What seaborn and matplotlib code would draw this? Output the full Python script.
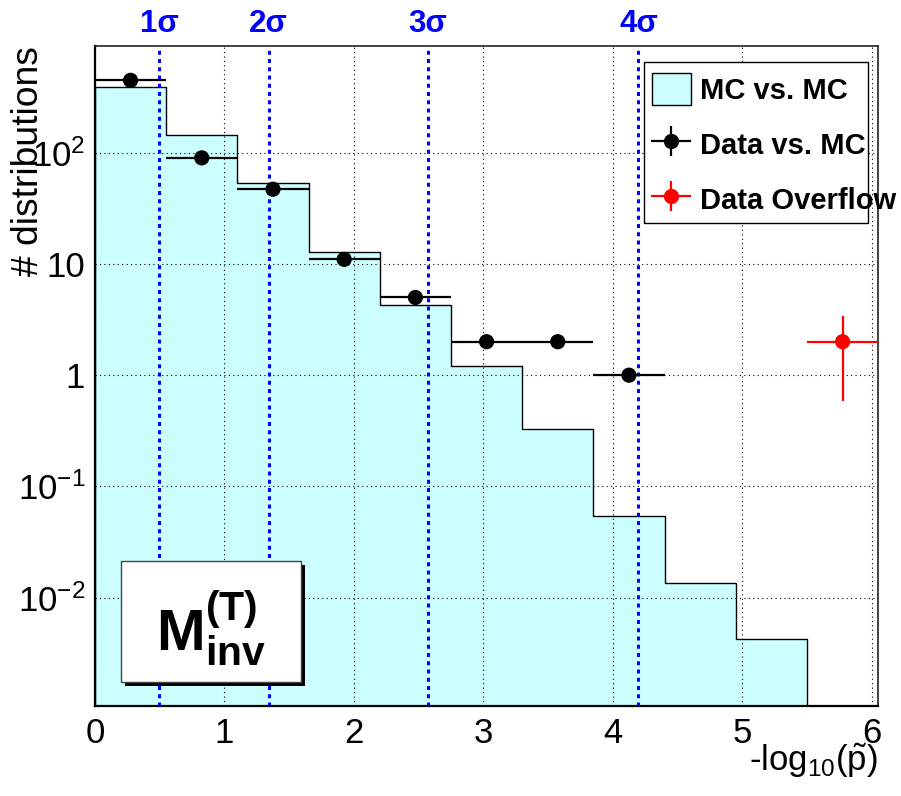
import numpy as np
import pandas as pd
import matplotlib
matplotlib.use("Agg")
import matplotlib.pyplot as plt
import matplotlib.transforms as mtransforms
from matplotlib.patches import Rectangle, Patch
from matplotlib.lines import Line2D
from matplotlib.ticker import (FixedLocator, FixedFormatter, MultipleLocator,
                               LogLocator, NullFormatter)
import seaborn as sns

# ---------------- data ----------------
bin_edges = [0.0, 0.55, 1.1, 1.65, 2.2, 2.75, 3.3, 3.85, 4.4, 4.95, 5.5]
mc_counts = [393, 143, 53.7, 12.9, 4.31, 1.21, 0.327, 0.0542, 0.0134, 0.00423]
data_counts = [448, 90, 47, 11, 5, 2, 2, 1]
overflow_x = [5.775]
overflow_counts = [2]
sigma_labels = ["1σ", "2σ", "3σ", "4σ"]
sigma_positions = [0.4985, 1.342, 2.569, 4.198]
xtick_values = [0, 1, 2, 3, 4, 5, 6]
xtick_labels = ["0", "1", "2", "3", "4", "5", "6"]
ytick_values = [0.01, 0.1, 1, 10, 100]
ytick_labels = [r"$10^{-2}$", r"$10^{-1}$", "1", "10", r"$10^{2}$"]
legend_labels = ["MC vs. MC", "Data vs. MC", "Data Overflow"]
xlabel_text = r"-log$_{10}$($\tilde{\mathrm{p}}$)"
ylabel_text = "# distributions"
box_text = r"$\mathbf{M}_{\mathbf{inv}}^{\mathbf{(T)}}$"

# ---------------- style ----------------
sns.set_style("white")
plt.rcParams["font.family"] = ["Liberation Sans", "DejaVu Sans"]
plt.rcParams["mathtext.fontset"] = "custom"
plt.rcParams["mathtext.rm"] = "Liberation Sans"
plt.rcParams["mathtext.it"] = "Liberation Sans:italic"
plt.rcParams["mathtext.bf"] = "Liberation Sans:bold"
for k in ["text.color", "axes.labelcolor", "xtick.color", "ytick.color",
          "axes.edgecolor"]:
    plt.rcParams[k] = "black"

CYAN = "#ccffff"
BLUE = "#0000ff"
RED = "#ff0000"

edges = np.array(bin_edges)
centers = 0.5 * (edges[:-1] + edges[1:])
half_w = 0.5 * (edges[1] - edges[0])

df_mc = pd.DataFrame({"center": centers, "mc": mc_counts})
df_data = pd.DataFrame({"center": centers[:len(data_counts)], "n": data_counts})
df_over = pd.DataFrame({"center": overflow_x, "n": overflow_counts})

fig = plt.figure(figsize=(9.01, 7.96), dpi=100)
ax = fig.add_axes([0.1054, 0.1134, 0.8687, 0.8284])
ax.set_yscale("log")

# MC histogram
sns.histplot(data=df_mc, x="center", weights="mc", bins=bin_edges,
             element="step", fill=True, color=CYAN, edgecolor="black",
             linewidth=1.0, alpha=1, ax=ax, zorder=1)

# sigma lines
trans = mtransforms.blended_transform_factory(ax.transData, ax.transAxes)
for pos, lab in zip(sigma_positions, sigma_labels):
    ax.axvline(pos, color=BLUE, lw=2.2, ls=(0, (1.3, 1.4)), zorder=3)
    ax.text(pos, 1.0217, lab, transform=trans, ha="center", va="baseline",
            color=BLUE, fontsize=22.5, fontweight="bold", clip_on=False)

# data vs MC
ax.errorbar(df_data["center"], df_data["n"], xerr=half_w, fmt="none",
            ecolor="black", elinewidth=1.6, zorder=4)
sns.scatterplot(data=df_data, x="center", y="n", color="black", s=120,
                edgecolor="none", ax=ax, zorder=5, legend=False)

# overflow
ax.errorbar(df_over["center"], df_over["n"], xerr=half_w,
            yerr=np.sqrt(df_over["n"]), fmt="none", ecolor=RED,
            elinewidth=1.6, zorder=4)
sns.scatterplot(data=df_over, x="center", y="n", color=RED, s=120,
                edgecolor="none", ax=ax, zorder=5, legend=False)

# axes setup
ax.set_xlim(0, 6.046)
ax.set_ylim(0.001066, 906)
ax.xaxis.set_major_locator(FixedLocator(xtick_values))
ax.xaxis.set_major_formatter(FixedFormatter(xtick_labels))
ax.xaxis.set_minor_locator(MultipleLocator(0.2))
ax.yaxis.set_major_locator(FixedLocator(ytick_values))
ax.yaxis.set_major_formatter(FixedFormatter(ytick_labels))
ax.yaxis.set_minor_locator(LogLocator(base=10, subs=np.arange(2, 10), numticks=30))
ax.yaxis.set_minor_formatter(NullFormatter())

ax.tick_params(axis="both", which="both", direction="in", top=False,
               right=False, labelsize=25, color="black", labelcolor="black")
ax.tick_params(axis="y", which="major", length=11, width=1.2, pad=7)
ax.tick_params(axis="y", which="minor", length=5.5, width=1.0)
ax.tick_params(axis="x", which="major", length=10, width=1.2, pad=8)
ax.tick_params(axis="x", which="minor", length=5, width=1.0)

ax.set_axisbelow(False)
ax.grid(True, which="major", color="black", lw=0.8, ls=(0, (1, 3)))
ax.grid(False, which="minor")

for s in ["left", "bottom"]:
    ax.spines[s].set_linewidth(1.6)
    ax.spines[s].set_color("black")
for s in ["top", "right"]:
    ax.spines[s].set_linewidth(1.2)
    ax.spines[s].set_color("#222222")

ax.set_xlabel(xlabel_text, fontsize=25, loc="right", color="black")
ax.xaxis.set_label_coords(1.0, -0.0985)
ax.xaxis.label.set_verticalalignment("baseline")
ax.set_ylabel(ylabel_text, fontsize=26.8, loc="top", color="black")
ax.yaxis.set_label_coords(-0.063, 1.0)

# legend with own frame
ax.add_patch(Rectangle((0.701, 0.732), 0.287, 0.244, transform=ax.transAxes,
                       facecolor="white", edgecolor="black", lw=1.0,
                       zorder=6, clip_on=False))
h_mc = Patch(facecolor=CYAN, edgecolor="black", lw=1.0)
h_data = (Line2D([], [], ls="", marker="_", ms=29, mew=1.6, color="black"),
          Line2D([], [], ls="", marker="|", ms=22, mew=1.6, color="black"),
          Line2D([], [], ls="", marker="o", ms=11, mew=0, color="black"))
h_over = (Line2D([], [], ls="", marker="_", ms=29, mew=1.6, color=RED),
          Line2D([], [], ls="", marker="|", ms=22, mew=1.6, color=RED),
          Line2D([], [], ls="", marker="o", ms=11, mew=0, color=RED))
leg = ax.legend([h_mc, h_data, h_over], legend_labels, loc="upper left",
                bbox_to_anchor=(0.701, 0.9715), frameon=False,
                prop={"weight": "bold", "size": 21}, borderpad=0.27,
                borderaxespad=0, handlelength=1.37, handleheight=1.3,
                handletextpad=0.3, labelspacing=0.80)
leg.set_zorder(7)
for t in leg.get_texts():
    t.set_color("black")

# text box with shadow
bx, by, bw, bh = 0.0335, 0.0364, 0.2303, 0.183
dx, dy = 4 / 783, 4 / 659.4
ax.add_patch(Rectangle((bx + dx, by - dy), bw, bh, transform=ax.transAxes,
                       facecolor="black", edgecolor="none", zorder=6))
ax.add_patch(Rectangle((bx, by), bw, bh, transform=ax.transAxes,
                       facecolor="white", edgecolor="#444444", lw=1.0,
                       zorder=6.1))
ax.text(bx + bw / 2, 0.118, box_text, transform=ax.transAxes, ha="center",
        va="center", fontsize=42, zorder=6.2, color="black")

fig.savefig("out.png", dpi=100)
